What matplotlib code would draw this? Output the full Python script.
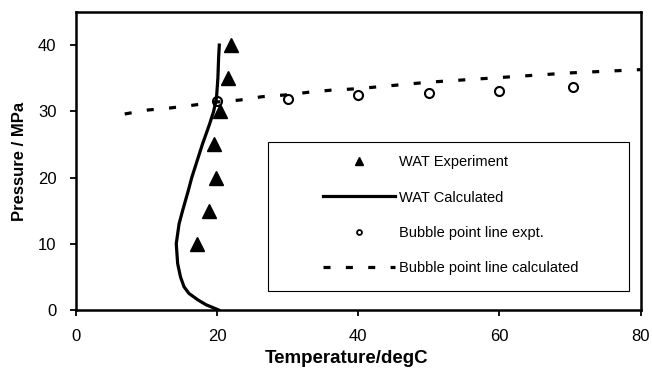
import matplotlib.pyplot as plt
from matplotlib.patches import Rectangle

plt.rcParams['font.family'] = ['Liberation Sans', 'DejaVu Sans']

# WAT experiment (temperature degC, pressure MPa)
wat_exp_t = [17.1, 18.8, 19.8, 19.5, 20.4, 21.5, 21.95]
wat_exp_p = [10, 15, 20, 25, 30, 35, 40]

# WAT calculated curve
wat_calc_t = [20.2, 19.3, 18.4, 17.3, 16.0, 15.3, 14.8, 14.4, 14.2, 14.6, 15.1,
              15.9, 16.4, 17.3, 17.9, 18.9, 19.5, 19.9, 20.1, 20.2, 20.3]
wat_calc_p = [0, 0.4, 0.8, 1.5, 2.5, 3.5, 5, 7, 10, 13, 15,
              18, 20, 23, 25, 28, 30, 32, 35, 38, 40]

# bubble point line, measured
bub_exp_t = [20, 30, 40, 50, 60, 70.4]
bub_exp_p = [31.5, 31.8, 32.4, 32.7, 33.1, 33.6]

# bubble point line, calculated
bub_calc_t = [6.9, 10.2, 13.3, 16.4, 19.9, 23.2, 26.3, 30, 33.1, 36.2, 39.7, 50, 60, 70, 80]
bub_calc_p = [29.6, 30.2, 30.5, 30.9, 31.4, 31.7, 32.2, 32.5, 32.9, 33.2, 33.4, 34.4, 35.1, 35.8, 36.3]

fig = plt.figure(figsize=(6.52, 3.69), dpi=100)
ax = fig.add_axes([0.1166, 0.160, 0.866, 0.8075])

ax.plot(wat_exp_t, wat_exp_p, linestyle='none', marker='^', markersize=9.5,
        color='black', label='WAT Experiment')
ax.plot(wat_calc_t, wat_calc_p, color='black', linewidth=2.3, label='WAT Calculated')
ax.plot(bub_exp_t, bub_exp_p, linestyle='none', marker='o', markersize=6.5,
        markerfacecolor='none', markeredgecolor='black', markeredgewidth=1.5,
        label='Bubble point line expt.')
ax.plot(bub_calc_t, bub_calc_p, color='black', linewidth=2.3,
        linestyle=(0, (2.2, 4.8)), label='Bubble point line calculated')

ax.set_xlim(0, 80)
ax.set_ylim(0, 45)
ax.set_xticks([0, 20, 40, 60, 80])
ax.set_yticks([0, 10, 20, 30, 40])
ax.tick_params(direction='out', length=4, width=1.3, pad=10, labelsize=12)

for sp in ax.spines.values():
    sp.set_linewidth(1.8)

ax.set_xlabel('Temperature/degC', fontsize=13.5, fontweight='bold')
ax.xaxis.set_label_coords(0.48, -0.135)
ax.set_ylabel('Pressure / MPa', fontsize=12, fontweight='bold', labelpad=8)

# legend box
ax.add_patch(Rectangle((0.34, 0.064), 0.64, 0.50, transform=ax.transAxes,
                       facecolor='white', edgecolor='black', linewidth=0.8, zorder=4))
leg = ax.legend(loc='upper left', bbox_to_anchor=(0.416, 0.558), frameon=False,
                fontsize=10.5, handlelength=5.0, handletextpad=0.25,
                labelspacing=1.45, borderpad=0.3)
leg.set_zorder(5)
hs = leg.legend_handles
hs[0].set_markersize(6)
hs[2].set_markersize(3.5)
hs[2].set_markeredgewidth(1.3)

fig.savefig('out.png', dpi=100)
